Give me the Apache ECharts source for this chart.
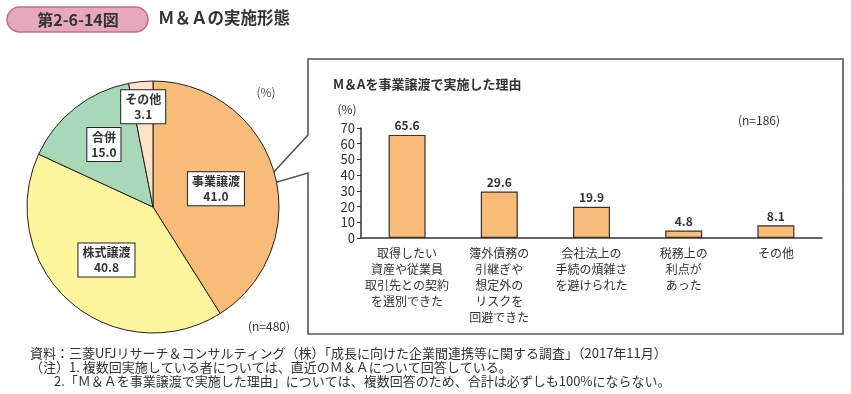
<!DOCTYPE html>
<html><head><meta charset="utf-8">
<script src="https://cdn.jsdelivr.net/npm/echarts@6/dist/echarts.min.js"></script>
<style>html,body{margin:0;padding:0;background:#fff}#c{width:851px;height:394px}</style>
</head><body><div id="c"></div>
<script>
// ---- data ----
const pieNames = ['事業譲渡', '株式譲渡', '合併', 'その他'];
const pieValues = [41.0, 40.8, 15.0, 3.1];
const barCategories = ['取得したい\n資産や従業員\n取引先との契約\nを選別できた', '簿外債務の\n引継ぎや\n想定外の\nリスクを\n回避できた', '会社法上の\n手続の煩雑さ\nを避けられた', '税務上の\n利点が\nあった', 'その他'];
const barValues = [65.6, 29.6, 19.9, 4.8, 8.1];
const yTicks = [0, 10, 20, 30, 40, 50, 60, 70];
const footnotes = [
  '資料：三菱UFJリサーチ＆コンサルティング（株）「成長に向けた企業間連携等に関する調査」（2017年11月）',
  '（注）1. 複数回実施している者については、直近のＭ＆Ａについて回答している。',
  '2.「Ｍ＆Ａを事業譲渡で実施した理由」については、複数回答のため、合計は必ずしも100%にならない。'
];

// ---- style ----
const FONT = '"Noto Sans CJK JP", "Noto Sans", sans-serif';
const TXT = '#333';
const pieColors = ['#F9BC78', '#FFF59C', '#A8D8B8', '#FDE2C8'];
const pieCenter = [153, 207];
const pieR = 126;
const labelRadFrac = [0.52, 0.56, 0.63, 0.80];

const total = pieValues.reduce((a, b) => a + b, 0);
function midAngle(i) {
  let s = 0;
  for (let k = 0; k < i; k++) s += pieValues[k];
  return (s + pieValues[i] / 2) / total * Math.PI * 2;
}

const chart = echarts.init(document.getElementById('c'), null, {renderer: 'canvas'});
chart.setOption({
  animation: false,
  backgroundColor: '#fff',
  textStyle: {fontFamily: FONT},
  title: [
    {text: 'Ｍ＆Ａの実施形態', left: 158, top: 9, padding: 0,
     textStyle: {fontFamily: FONT, fontSize: 16.5, fontWeight: 'bold', color: TXT}},
    {text: 'M＆Aを事業譲渡で実施した理由', left: 333, top: 78, padding: 0,
     textStyle: {fontFamily: FONT, fontSize: 13, fontWeight: 'bold', color: TXT}}
  ],
  graphic: [
    {type: 'rect', shape: {x: 7, y: 7, width: 141, height: 25, r: 12.5},
     style: {fill: '#E6A8BD', stroke: '#C96B8F', lineWidth: 1.5}},
    {type: 'text', x: 78, y: 20, style: {text: '第2-6-14図', fill: TXT, font: 'bold 16px ' + FONT, align: 'center', verticalAlign: 'middle'}},
    {type: 'polygon', shape: {points: [[308, 59], [843, 59], [843, 334], [308, 334], [308, 173], [260, 187], [308, 135]]},
     style: {fill: 'none', stroke: '#555', lineWidth: 1.6}, z: 1},
    {type: 'text', x: 266, y: 92, style: {text: '(%)', fill: '#555', font: '12px ' + FONT, align: 'center', verticalAlign: 'middle'}},
    {type: 'text', x: 269, y: 326, style: {text: '(n=480)', fill: TXT, font: '12px ' + FONT, align: 'center', verticalAlign: 'middle'}},
    {type: 'text', x: 347, y: 109, style: {text: '(%)', fill: TXT, font: '12px ' + FONT, align: 'center', verticalAlign: 'middle'}},
    {type: 'text', x: 759, y: 120, style: {text: '(n=186)', fill: TXT, font: '12px ' + FONT, align: 'center', verticalAlign: 'middle'}},
    {type: 'text', x: 30, y: 353, style: {text: footnotes[0], fill: TXT, font: '13px ' + FONT, verticalAlign: 'middle'}},
    {type: 'text', x: 30, y: 367, style: {text: footnotes[1], fill: TXT, font: '13px ' + FONT, verticalAlign: 'middle'}},
    {type: 'text', x: 54, y: 381, style: {text: footnotes[2], fill: TXT, font: '13px ' + FONT, verticalAlign: 'middle'}}
  ],
  grid: {left: 361, right: 29, top: 128, bottom: 156, containLabel: false},
  xAxis: {
    type: 'category', data: barCategories,
    axisLine: {lineStyle: {color: '#333', width: 1.5}},
    axisTick: {inside: true, length: 4, lineStyle: {color: '#333'}},
    axisLabel: {interval: 0, color: TXT, fontSize: 12, lineHeight: 16, margin: 7, fontFamily: FONT}
  },
  yAxis: {
    type: 'value', min: 0, max: 70, interval: 10,
    splitLine: {show: false},
    axisLine: {show: true, lineStyle: {color: '#333', width: 1.5}},
    axisTick: {show: true, length: 4, lineStyle: {color: '#333'}},
    axisLabel: {color: TXT, fontSize: 13, margin: 6, fontFamily: FONT,
      formatter: v => yTicks.includes(v) ? String(v) : ''}
  },
  series: [
    {
      type: 'pie', center: pieCenter, radius: pieR, startAngle: 90, clockwise: true,
      data: pieNames.map((n, i) => ({name: n, value: pieValues[i], itemStyle: {color: pieColors[i]}})),
      itemStyle: {borderColor: '#222', borderWidth: 1},
      label: {
        show: true, position: 'inside',
        formatter: p => p.name + '\n' + p.value.toFixed(1),
        color: TXT, fontSize: 12, lineHeight: 15, fontWeight: 'bold', fontFamily: FONT,
        backgroundColor: '#fff', borderColor: '#222', borderWidth: 1, padding: [2, 4, 1, 4]
      },
      labelLine: {show: false},
      labelLayout: function (params) {
        const i = params.dataIndex;
        const a = midAngle(i);
        const r = pieR * labelRadFrac[i];
        return {x: pieCenter[0] + r * Math.sin(a), y: pieCenter[1] - r * Math.cos(a), align: 'center', verticalAlign: 'middle'};
      },
      emphasis: {disabled: true}
    },
    {
      type: 'bar', data: barValues, barWidth: 37,
      itemStyle: {color: '#F9BC78', borderColor: '#333', borderWidth: 1.2},
      label: {show: true, position: 'top', distance: 3, color: TXT, fontSize: 12, fontWeight: 'bold', fontFamily: FONT,
        formatter: p => p.value.toFixed(1)},
      emphasis: {disabled: true}
    }
  ]
});
</script></body></html>
